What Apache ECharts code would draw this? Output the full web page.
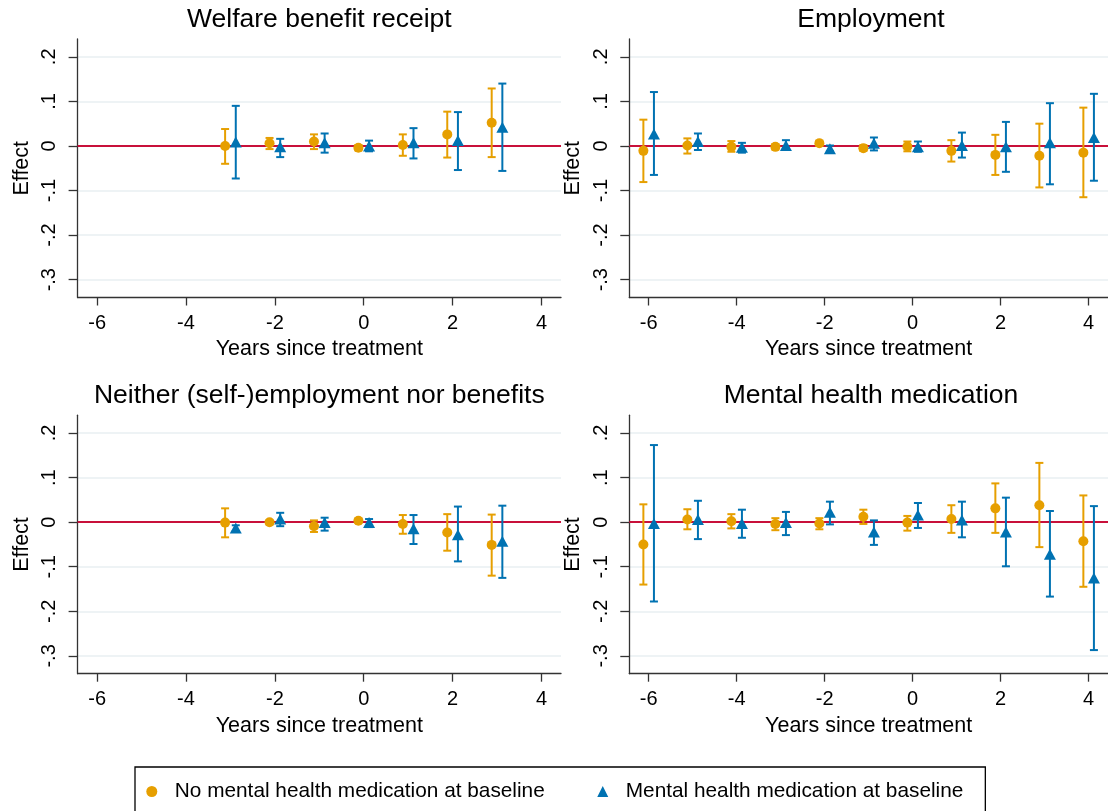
<!DOCTYPE html>
<html><head><meta charset="utf-8">
<script src="https://cdn.jsdelivr.net/npm/echarts@6/dist/echarts.min.js"></script>
<style>html,body{margin:0;padding:0;background:#fff}#c{width:1108px;height:811px}</style>
</head><body><div id="c"></div><script>
// ---- data ----
const yearsShort = [-3, -2, -1, 0, 1, 2, 3];
const yearsLong = [-6, -5, -4, -3, -2, -1, 0, 1, 2, 3, 4];
const panelTitles = ['Welfare benefit receipt', 'Employment', 'Neither (self-)employment nor benefits', 'Mental health medication'];
const groupNames = ['No mental health medication at baseline', 'Mental health medication at baseline'];
const xTickValues = [-6, -4, -2, 0, 2, 4];
const yTickValues = [-0.3, -0.2, -0.1, 0, 0.1, 0.2];

// Welfare benefit receipt
const welfareNoEst = [0.000, 0.006, 0.010, -0.004, 0.002, 0.026, 0.052];
const welfareNoLo  = [-0.040, -0.007, -0.007, -0.010, -0.022, -0.026, -0.025];
const welfareNoHi  = [0.038, 0.018, 0.026, 0.002, 0.026, 0.077, 0.129];
const welfareMedEst = [0.009, -0.002, 0.007, 0.000, 0.007, 0.012, 0.042];
const welfareMedLo  = [-0.073, -0.025, -0.015, -0.012, -0.028, -0.054, -0.056];
const welfareMedHi  = [0.090, 0.016, 0.028, 0.012, 0.040, 0.076, 0.140];

// Employment
const empNoEst = [-0.011, 0.001, -0.002, -0.002, 0.006, -0.005, -0.001, -0.011, -0.020, -0.022, -0.015];
const empNoLo  = [-0.081, -0.017, -0.013, -0.008, 0.000, -0.011, -0.012, -0.035, -0.065, -0.093, -0.115];
const empNoHi  = [0.059, 0.017, 0.011, 0.004, 0.012, 0.002, 0.010, 0.013, 0.025, 0.050, 0.086];
const empMedEst = [0.027, 0.010, -0.003, 0.001, -0.006, 0.006, -0.002, 0.001, -0.002, 0.007, 0.019];
const empMedLo  = [-0.065, -0.009, -0.015, -0.007, -0.012, -0.010, -0.013, -0.026, -0.058, -0.086, -0.078];
const empMedHi  = [0.121, 0.028, 0.007, 0.013, 0.001, 0.019, 0.010, 0.030, 0.054, 0.096, 0.117];

// Neither (self-)employment nor benefits
const neiNoEst = [-0.001, 0.000, -0.009, 0.003, -0.004, -0.023, -0.051];
const neiNoLo  = [-0.034, -0.005, -0.022, -0.002, -0.026, -0.064, -0.120];
const neiNoHi  = [0.031, 0.004, 0.004, 0.008, 0.016, 0.018, 0.017];
const neiMedEst = [-0.013, 0.007, -0.001, -0.001, -0.015, -0.028, -0.043];
const neiMedLo  = [-0.020, -0.009, -0.019, -0.011, -0.049, -0.088, -0.125];
const neiMedHi  = [-0.007, 0.021, 0.010, 0.007, 0.016, 0.035, 0.037];

// Mental health medication
const mhmNoEst = [-0.050, 0.006, 0.002, -0.004, -0.003, 0.012, -0.001, 0.007, 0.031, 0.038, -0.043];
const mhmNoLo  = [-0.140, -0.016, -0.014, -0.018, -0.016, -0.004, -0.019, -0.024, -0.024, -0.056, -0.145];
const mhmNoHi  = [0.040, 0.029, 0.018, 0.009, 0.009, 0.028, 0.014, 0.038, 0.087, 0.133, 0.060];
const mhmMedEst = [-0.003, 0.006, -0.003, -0.001, 0.022, -0.022, 0.016, 0.005, -0.022, -0.072, -0.125];
const mhmMedLo  = [-0.178, -0.038, -0.035, -0.029, -0.005, -0.051, -0.013, -0.034, -0.099, -0.167, -0.287];
const mhmMedHi  = [0.173, 0.048, 0.028, 0.023, 0.046, 0.004, 0.043, 0.046, 0.055, 0.025, 0.036];

// ---- build ----
const panels = [
  {years: yearsShort, no: [welfareNoEst, welfareNoLo, welfareNoHi], med: [welfareMedEst, welfareMedLo, welfareMedHi]},
  {years: yearsLong, no: [empNoEst, empNoLo, empNoHi], med: [empMedEst, empMedLo, empMedHi]},
  {years: yearsShort, no: [neiNoEst, neiNoLo, neiNoHi], med: [neiMedEst, neiMedLo, neiMedHi]},
  {years: yearsLong, no: [mhmNoEst, mhmNoLo, mhmNoHi], med: [mhmMedEst, mhmMedLo, mhmMedHi]}
];

const ORANGE = '#E69F00', BLUE = '#0072B2', RED = '#C8103A';
const AXIS_COLOR = '#333333', GRID_COLOR = '#E9EFF2';
const FONT = '"Liberation Sans", Arial, sans-serif';
const DODGE = 0.12;
const PW = 483.4, PH = 258.5;
const lefts = [77.6, 629.3, 77.6, 629.3];
const tops = [39, 39, 415.2, 415.2];

function fmtY(v) {
  if (Math.abs(v) < 1e-9) return '0';
  const s = Math.abs(v).toFixed(1).replace(/^0/, '');
  return (v < 0 ? '-' : '') + s;
}

function errRenderer(color) {
  return function (params, api) {
    const x = api.value(0), lo = api.value(1), hi = api.value(2);
    const a = api.coord([x, hi]), b = api.coord([x, lo]);
    const hw = 4;
    const st = {stroke: color, lineWidth: 2, fill: null};
    return {type: 'group', children: [
      {type: 'line', shape: {x1: a[0], y1: a[1], x2: b[0], y2: b[1]}, style: st},
      {type: 'line', shape: {x1: a[0] - hw, y1: a[1], x2: a[0] + hw, y2: a[1]}, style: st},
      {type: 'line', shape: {x1: b[0] - hw, y1: b[1], x2: b[0] + hw, y2: b[1]}, style: st}
    ]};
  };
}

const grid = [], xAxis = [], yAxis = [], series = [], title = [];
panels.forEach((p, i) => {
  grid.push({left: lefts[i], top: tops[i], width: PW, height: PH, containLabel: false});
  title.push({
    text: panelTitles[i], left: lefts[i] + PW / 2, top: tops[i] - 33, textAlign: 'center', padding: 0,
    textStyle: {fontFamily: FONT, fontSize: 26.5, fontWeight: 'normal', color: '#000'}
  });
  xAxis.push({
    type: 'value', gridIndex: i, min: -6.44, max: 4.44,
    name: 'Years since treatment', nameLocation: 'middle', nameGap: 41,
    nameTextStyle: {fontFamily: FONT, fontSize: 21.5, color: '#000'},
    axisLine: {show: true, onZero: false, lineStyle: {color: AXIS_COLOR, width: 1.3}},
    axisTick: {show: true, length: 8, customValues: xTickValues, lineStyle: {color: AXIS_COLOR, width: 1.3}},
    axisLabel: {customValues: xTickValues, fontFamily: FONT, fontSize: 20, color: '#000', margin: 16},
    splitLine: {show: false}
  });
  yAxis.push({
    type: 'value', gridIndex: i, min: -0.34, max: 0.24,
    name: 'Effect', nameLocation: 'middle', nameGap: 45, nameRotate: 90,
    nameTextStyle: {fontFamily: FONT, fontSize: 21.5, color: '#000'},
    axisLine: {show: true, onZero: false, lineStyle: {color: AXIS_COLOR, width: 1.3}},
    axisTick: {show: true, length: 9, customValues: yTickValues, lineStyle: {color: AXIS_COLOR, width: 1.3}},
    axisLabel: {customValues: yTickValues, rotate: 90, formatter: fmtY, fontFamily: FONT, fontSize: 20, color: '#000', margin: 18},
    splitLine: {show: true, lineStyle: {color: GRID_COLOR, width: 1.5}}
  });
  const noErr = p.years.map((y, k) => [y - DODGE, p.no[1][k], p.no[2][k]]);
  const medErr = p.years.map((y, k) => [y + DODGE, p.med[1][k], p.med[2][k]]);
  series.push({
    type: 'custom', name: 'ciNo' + i, xAxisIndex: i, yAxisIndex: i, z: 3,
    renderItem: errRenderer(ORANGE), encode: {x: 0, y: [1, 2]}, data: noErr,
    markLine: {silent: true, symbol: 'none', label: {show: false}, z: 2,
      lineStyle: {color: RED, width: 2, type: 'solid'}, data: [{yAxis: 0}]}
  });
  series.push({
    type: 'custom', name: 'ciMed' + i, xAxisIndex: i, yAxisIndex: i, z: 3,
    renderItem: errRenderer(BLUE), encode: {x: 0, y: [1, 2]}, data: medErr
  });
  series.push({
    type: 'scatter', name: groupNames[0], xAxisIndex: i, yAxisIndex: i, z: 4,
    symbol: 'circle', symbolSize: 10, itemStyle: {color: ORANGE, opacity: 1},
    data: p.years.map((y, k) => [y - DODGE, p.no[0][k]])
  });
  series.push({
    type: 'scatter', name: groupNames[1], xAxisIndex: i, yAxisIndex: i, z: 4,
    symbol: 'triangle', symbolSize: [12, 11], itemStyle: {color: BLUE, opacity: 1},
    data: p.years.map((y, k) => [y + DODGE, p.med[0][k]])
  });
});

const chart = echarts.init(document.getElementById('c'), null, {renderer: 'canvas'});
chart.setOption({
  animation: false,
  backgroundColor: '#ffffff',
  title: title,
  grid: grid, xAxis: xAxis, yAxis: yAxis, series: series,
  legend: {
    data: groupNames, left: 135, top: 767, orient: 'horizontal',
    padding: [14, 22, 40, 11.3], itemGap: 52.5, itemWidth: 11, itemHeight: 11,
    borderColor: '#000', borderWidth: 1.3, selectedMode: false,
    textStyle: {fontFamily: FONT, fontSize: 20.8, color: '#000', padding: [0, 0, 0, 12.5]}
  }
});
</script></body></html>
